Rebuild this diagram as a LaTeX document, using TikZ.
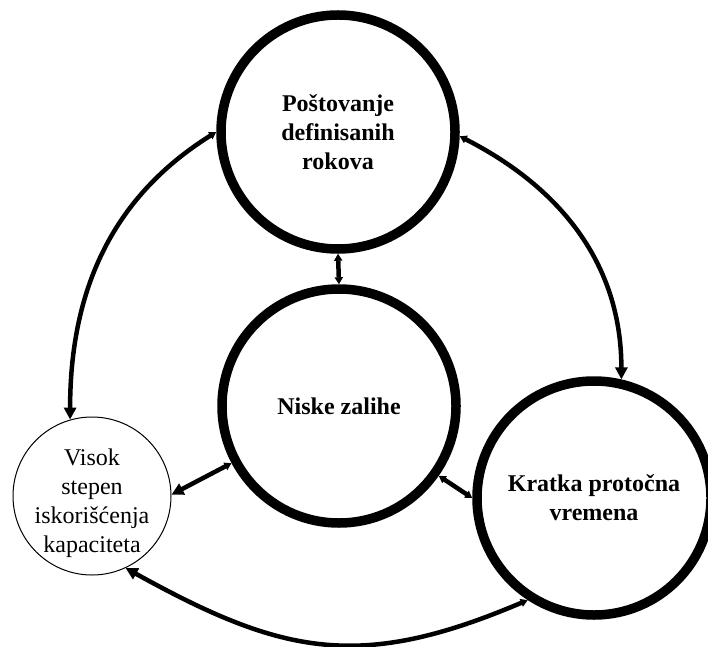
\documentclass[tikz,border=0pt]{standalone}
\usepackage{fontspec}
\setmainfont{Liberation Serif}
\usetikzlibrary{arrows.meta}

\tikzset{
  Bg/.tip={Triangle[length=12pt,width=12pt]},
  Sm/.tip={Triangle[length=7pt,width=8pt]},
  bigcircle/.style={circle, draw, line width=9.5pt, minimum size=234pt,
    inner sep=0pt, align=center,
    font=\fontsize{24}{29}\selectfont\bfseries},
  thincircle/.style={circle, draw, line width=1pt, minimum size=158pt,
    inner sep=0pt},
  thintext/.style={align=center, font=\fontsize{24}{29}\selectfont,
    yshift=-7pt},
  conn/.style={line width=4.5pt},
}

\begin{document}
\begin{tikzpicture}[x=1pt,y=1pt]
  \useasboundingbox (0,0) rectangle (708,646);

  % the four goals
  \node[bigcircle] (rok) at (338,514) {Poštovanje\\definisanih\\rokova};
  \node[bigcircle] (zal) at (339,240) {Niske zalihe};
  \node[bigcircle] (vre) at (594,148) {Kratka protočna\\vremena};
  \node[thincircle,
        label={[thintext]center:Visok\\stepen\\iskorišćenja\\kapaciteta}]
        (kap) at (92,150) {};

  % mutual influences
  \draw[conn, Sm-Bg] (rok.180) to[out=212, in=90] (kap.106);
  \draw[conn, Sm-Bg] (rok.358) to[out=333, in=90] (vre.77);
  \draw[conn, Sm-Sm] (rok.south) -- (zal.north);
  \draw[conn, Sm-Bg] (zal.208) -- (kap.1);
  \draw[conn, Sm-Sm] (zal.325) -- (vre.180);
  \draw[conn, Bg-Sm] (kap.295) to[out=331, in=203, looseness=1.15] (vre.237);
\end{tikzpicture}
\end{document}
